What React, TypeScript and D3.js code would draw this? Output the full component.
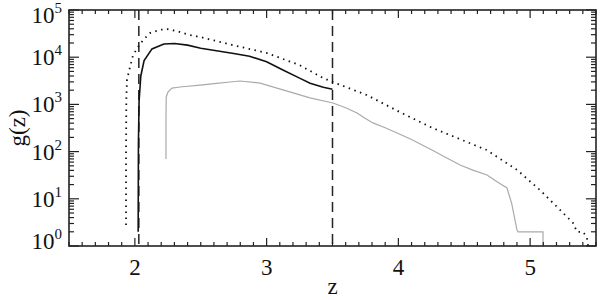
import React from "react"
import * as d3 from "d3"

// tick values
const xMajor = [2, 3, 4, 5]
const yMajor = [0, 1, 2, 3, 4, 5]
const cutLines = [2.03, 3.5]

// series: [z, g(z)]
const solid: [number, number][] = [
    [2.025, 2], [2.027, 150], [2.032, 1200], [2.045, 4000], [2.07, 8500],
    [2.13, 15000], [2.22, 19000], [2.3, 19500], [2.4, 18000], [2.5, 15500],
    [2.75, 12000], [2.87, 10500], [3.0, 8000], [3.12, 5400], [3.25, 3600],
    [3.33, 2800], [3.43, 2300], [3.5, 2100]
]

const dotted: [number, number][] = [
    [1.933, 2.8], [1.933, 108], [1.935, 1240], [1.94, 3300], [1.963, 6200],
    [1.986, 11000], [2.024, 16500], [2.062, 23000], [2.115, 32500], [2.19, 38000],
    [2.244, 39500], [2.32, 35700], [2.418, 29500], [2.494, 26800], [2.745, 18000],
    [3.0, 12300], [3.25, 6800], [3.43, 3600], [3.5, 3000], [3.76, 1580],
    [4.01, 690], [4.26, 316], [4.52, 160], [4.67, 108], [4.9, 41],
    [5.075, 15.3], [5.227, 5.8], [5.325, 3.1], [5.356, 2], [5.4, 2],
    [5.43, 1.55], [5.44, 1.0]
]

const gray: [number, number][] = [
    [2.236, 70], [2.236, 470], [2.238, 1440], [2.251, 1820], [2.282, 2220],
    [2.342, 2340], [2.494, 2570], [2.62, 2800], [2.722, 2980], [2.798, 3130],
    [2.95, 2830], [3.124, 2030], [3.329, 1370], [3.504, 1070], [3.6, 850],
    [3.686, 660], [3.75, 500], [3.807, 405], [3.9, 320], [3.99, 247],
    [4.1, 180], [4.255, 108], [4.35, 78], [4.468, 52], [4.57, 40],
    [4.673, 32], [4.749, 23], [4.824, 17], [4.86, 8], [4.9, 2.2],
    [4.908, 2], [5.098, 2], [5.098, 1]
]

export default function App() {
    const W = 600
    const H = 300
    const left = 69, right = 596, top = 10, bottom = 246

    const x = d3.scaleLinear().domain([1.5, 5.5]).range([left, right])
    const y = d3.scaleLog().domain([1, 1e5]).range([bottom, top])

    const line = d3.line<[number, number]>()
        .x(d => x(d[0]))
        .y(d => y(Math.max(d[1], 1)))

    const xMinor = d3.range(15, 56).map(i => i / 10).filter(v => Math.abs(v - Math.round(v)) > 1e-6)
    const yMinor: number[] = []
    for (let d = 0; d < 5; d++) {
        for (let k = 2; k <= 9; k++) yMinor.push(k * Math.pow(10, d))
    }

    const font = "'Liberation Serif', 'Times New Roman', serif"

    return (
        <svg width={W} height={H} style={{ position: "absolute", left: 0, top: 0 }} fontFamily={font}>
            <rect width={W} height={H} fill="white" />
            <defs>
                <clipPath id="plot">
                    <rect x={left} y={top} width={right - left} height={bottom - top} />
                </clipPath>
            </defs>

            <g clipPath="url(#plot)">
                {cutLines.map(c => (
                    <line key={c} x1={x(c)} x2={x(c)} y1={top} y2={bottom}
                        stroke="#222" strokeWidth={1.5} strokeDasharray="10,6" />
                ))}
                <path d={line(gray) || ""} fill="none" stroke="#aaa" strokeWidth={1.2} />
                <path d={line(dotted) || ""} fill="none" stroke="#111" strokeWidth={1.8}
                    strokeDasharray="1.5,4.5" />
                <path d={line(solid) || ""} fill="none" stroke="#111" strokeWidth={1.6} />
            </g>

            {/* ticks on all four sides, pointing in */}
            <g stroke="#222" strokeWidth={1.2}>
                {xMajor.map(v => (
                    <g key={"xm" + v}>
                        <line x1={x(v)} x2={x(v)} y1={bottom} y2={bottom - 8} />
                        <line x1={x(v)} x2={x(v)} y1={top} y2={top + 8} />
                    </g>
                ))}
                {xMinor.map(v => (
                    <g key={"xn" + v}>
                        <line x1={x(v)} x2={x(v)} y1={bottom} y2={bottom - 4} />
                        <line x1={x(v)} x2={x(v)} y1={top} y2={top + 4} />
                    </g>
                ))}
                {yMajor.map(p => (
                    <g key={"ym" + p}>
                        <line x1={left} x2={left + 10} y1={y(Math.pow(10, p))} y2={y(Math.pow(10, p))} />
                        <line x1={right} x2={right - 10} y1={y(Math.pow(10, p))} y2={y(Math.pow(10, p))} />
                    </g>
                ))}
                {yMinor.map(v => (
                    <g key={"yn" + v}>
                        <line x1={left} x2={left + 5} y1={y(v)} y2={y(v)} />
                        <line x1={right} x2={right - 5} y1={y(v)} y2={y(v)} />
                    </g>
                ))}
            </g>

            <rect x={left} y={top} width={right - left} height={bottom - top}
                fill="none" stroke="#222" strokeWidth={1.6} />

            {/* tick labels */}
            {xMajor.map(v => (
                <text key={"xl" + v} x={x(v)} y={275} fontSize={23} textAnchor="middle" fill="#111">{v}</text>
            ))}
            {yMajor.map(p => {
                const yy = Math.min(Math.max(y(Math.pow(10, p)), 15), 241)
                return (
                    <text key={"yl" + p} x={62} y={yy + 8} fontSize={23} textAnchor="end" fill="#111">
                        10<tspan fontSize={15} dy={-10}>{p}</tspan>
                    </text>
                )
            })}

            <text x={(left + right) / 2} y={294} fontSize={23} textAnchor="middle" fill="#111">z</text>
            <text transform={`translate(25,${(top + bottom) / 2}) rotate(-90)`} fontSize={23}
                textAnchor="middle" fill="#111">g(z)</text>
        </svg>
    )
}
